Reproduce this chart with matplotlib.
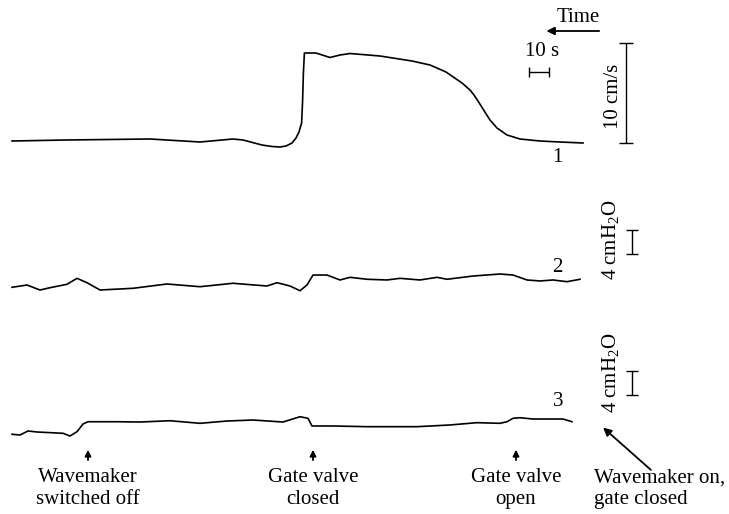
'''
Velocity and pressure records during wavemaker / gate valve sequence
'''

import matplotlib
matplotlib.use('Agg')
from matplotlib import pyplot as plt

plt.rcParams['font.family'] = ['Liberation Serif', 'DejaVu Serif']
plt.rcParams['mathtext.fontset'] = 'custom'
plt.rcParams['mathtext.rm'] = 'Liberation Serif'

# trace 1: velocity (cm/s) against time (s)
t_vel = [6, 33, 75, 100, 116.5, 121.5, 131, 136, 140, 143, 146, 148,
         149.5, 150.8, 151.3, 151.7, 152.2, 155, 158, 165, 170, 175, 190,
         206, 215, 223, 231, 235, 237, 239, 241.5, 245, 248.5, 253.5, 260,
         270, 280, 291.5]
vel = [0.0, 0.1, 0.2, -0.1, 0.2, 0.1, -0.4, -0.55, -0.6, -0.5, -0.2, 0.3,
       0.9, 1.8, 4.0, 6.8, 8.8, 8.8, 8.8, 8.35, 8.6, 8.75, 8.5, 8.0, 7.6,
       6.9, 5.8, 5.1, 4.6, 4.0, 3.2, 2.1, 1.3, 0.6, 0.2, 0.0, -0.1, -0.2]

# trace 2: pressure (cmH2O)
t_p2 = [6, 13.5, 20, 25, 33.5, 38.5, 43.5, 50, 66.5, 83.5, 100, 116.5,
        133.5, 138.5, 145, 150, 153.5, 156.5, 163.5, 170, 175, 183.5,
        193.5, 200, 210, 218.5, 223.5, 236.5, 250, 256.5, 263.5, 270,
        276.5, 283.5, 290]
p2 = [-0.05, 0.34, -0.51, -0.12, 0.46, 1.47, 0.73, -0.51, -0.22, 0.51,
      0.05, 0.63, 0.17, 0.73, 0.17, -0.63, 0.34, 2.03, 2.03, 1.19, 1.64,
      1.31, 1.19, 1.47, 1.19, 1.64, 1.31, 1.86, 2.20, 2.03, 1.19, 1.02,
      1.19, 0.90, 1.31]

# trace 3: pressure (cmH2O)
t_p3 = [6, 10, 14, 18.5, 31.5, 35, 38.5, 41.5, 44, 58.5, 70, 85, 100,
        113.5, 126.5, 141.5, 150, 154, 156, 166.5, 183.5, 208.5, 225,
        238.5, 250, 253.5, 256.5, 260, 266.5, 281.5, 286]
p3 = [-0.05, -0.17, 0.51, 0.34, 0.12, -0.34, 0.39, 1.69, 2.08, 2.08,
      2.03, 2.25, 1.81, 2.20, 2.37, 2.03, 2.93, 2.66, 1.36, 1.36, 1.24,
      1.24, 1.53, 1.92, 1.81, 2.08, 2.66, 2.76, 2.54, 2.54, 2.08]

# events (time in s) marked under trace 3
event_t = [44, 156.5, 258]
event_labels = ['Wavemaker\nswitched off', 'Gate valve\nclosed',
                'Gate valve\nopen']

W, H = 729, 514
FS = 15


def fx(px):
    return px / W


def fy(py):
    return 1 - py / H


def band(fig, top, bottom, ref, px_per_unit):
    # axes spanning the full width between two pixel rows
    ax = fig.add_axes([0, fy(bottom), 1, (bottom - top) / H])
    ax.set_xlim(0, W / 2)   # 2 px per second
    ax.set_ylim((ref - bottom) / px_per_unit, (ref - top) / px_per_unit)
    ax.axis('off')
    return ax


fig = plt.figure(figsize=(W / 100, H / 100), dpi=100)

ax1 = band(fig, 0, 180, 141, 10.0)
ax2 = band(fig, 180, 340, 287, 5.9)
ax3 = band(fig, 340, 514, 434, 5.9)

ax1.plot(t_vel, vel, color='black', lw=1.2)
ax2.plot(t_p2, p2, color='black', lw=1.2)
ax3.plot(t_p3, p3, color='black', lw=1.2)

# trace numbers
fig.text(fx(557), fy(157), '1', fontsize=FS, ha='center', va='center')
fig.text(fx(557), fy(267), '2', fontsize=FS, ha='center', va='center')
fig.text(fx(558), fy(402), '3', fontsize=FS, ha='center', va='center')

# scale bars
ax1.errorbar([313], [4.8], yerr=[[5.0], [5.0]], color='black', lw=1,
             capsize=5, capthick=1)
ax1.errorbar([269.5], [6.9], xerr=[[5], [5]], color='black', lw=1,
             capsize=3.5, capthick=1)
ax2.errorbar([316], [7.6], yerr=[[2.0], [2.0]], color='black', lw=1,
             capsize=4, capthick=1)
ax3.errorbar([316], [8.6], yerr=[[2.0], [2.0]], color='black', lw=1,
             capsize=4, capthick=1)

fig.text(fx(542), fy(51), '10 s', fontsize=FS, ha='center', va='center')
fig.text(fx(613), fy(96), '10 cm/s', fontsize=FS, ha='center',
         va='center', rotation=90)
fig.text(fx(611), fy(240), r'4 cmH$_2$O', fontsize=FS, ha='center',
         va='center', rotation=90)
fig.text(fx(611), fy(373), r'4 cmH$_2$O', fontsize=FS, ha='center',
         va='center', rotation=90)

# time direction
fig.text(fx(578), fy(17), 'Time', fontsize=FS, ha='center', va='center')
fig.add_artist(plt.annotate('', xy=(fx(544), fy(31)), xytext=(fx(602), fy(31)),
                            xycoords='figure fraction',
                            arrowprops=dict(arrowstyle='-|>', lw=1,
                                            color='black',
                                            mutation_scale=12)))

# event arrows and labels
for t, lab in zip(event_t, event_labels):
    ax3.annotate('', xy=(t, -2.2), xytext=(t, -4.9),
                 arrowprops=dict(arrowstyle='-|>', lw=1.3, color='black',
                                 mutation_scale=9))
    ax3.text(t, -9.3, lab, fontsize=FS, ha='center', va='center',
             linespacing=1.2)

ax3.annotate('', xy=(300.5, 1.4), xytext=(326.5, -6.4),
             arrowprops=dict(arrowstyle='-|>', lw=1.3, color='black',
                             mutation_scale=12))
fig.text(fx(594), fy(489), 'Wavemaker on,\ngate closed', fontsize=FS,
         ha='left', va='center', linespacing=1.2)

fig.savefig('out.png', dpi=100)
